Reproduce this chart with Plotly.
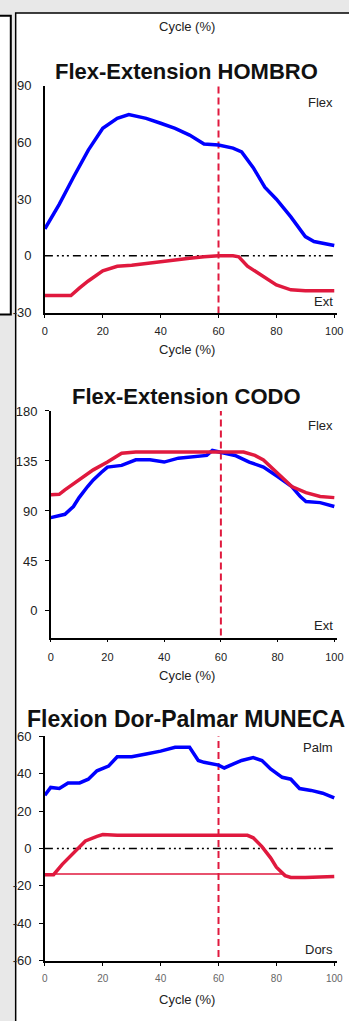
import plotly.graph_objects as go

W, H = 349, 1021

# ---------------- data ----------------
cycle_ticks = [0, 20, 40, 60, 80, 100]
cycle_tick_labels = ["0", "20", "40", "60", "80", "100"]

hombro_flex_x = [0, 5, 10, 15, 20, 25, 29, 35, 40, 45, 50, 55, 60, 65, 68, 72, 76, 80, 85, 90, 93, 100]
hombro_flex = [14.3, 27.4, 42, 56, 67.5, 72.8, 74.8, 72.8, 70.2, 67.5, 63.9, 59.2, 58.7, 57, 55, 46.7, 36.3, 30, 20.6, 10.2, 7.6, 5.5]
hombro_ext_x = [0, 5, 9, 12, 15, 20, 25, 30, 35, 40, 45, 50, 55, 60, 65, 67, 70, 75, 80, 85, 90, 100]
hombro_ext = [-21, -21, -21, -17, -13.3, -8, -5.5, -5, -4, -3, -2.3, -1.3, -0.5, 0, 0, -0.5, -5.5, -10.7, -15.4, -18, -18.5, -18.5]
hombro_yticks = [-30, 0, 30, 60, 90]

codo_blue_x = [0, 3, 5, 8, 10, 13, 15, 18, 20, 25, 30, 35, 40, 45, 50, 55, 57, 60, 65, 70, 75, 80, 85, 88, 90, 95, 100]
codo_blue = [84, 86, 87, 94, 102, 112, 118, 125, 129.5, 131, 136, 136, 134, 137.5, 139, 140, 144.5, 143, 140, 134, 129.5, 121, 112, 103, 98.5, 97.5, 94]
codo_red_x = [0, 3, 5, 10, 15, 20, 25, 30, 40, 50, 60, 68, 72, 75, 80, 85, 90, 95, 100]
codo_red = [104.7, 105, 109, 118, 127, 134, 142, 143, 143, 143, 143, 143, 140, 136, 124, 112, 106.5, 103, 102]
codo_yticks = [0, 45, 90, 135, 180]

muneca_blue_x = [0, 2, 5, 8, 12, 15, 18, 22, 25, 30, 35, 40, 45, 50, 53, 55, 60, 62, 65, 68, 72, 75, 78, 82, 85, 88, 92, 96, 100]
muneca_blue = [28.4, 32.6, 32, 35, 35, 37, 41.5, 44, 49, 49, 50.5, 52, 54, 54, 47, 46, 44.5, 43, 45, 47, 48.5, 47, 42.5, 38, 37, 32, 31, 29.5, 27]
muneca_red_x = [0, 3, 6, 10, 14, 18, 20, 25, 30, 40, 50, 60, 70, 72, 75, 78, 80, 83, 85, 90, 100]
muneca_red = [-14, -14, -8.5, -2, 4, 6.5, 7.4, 7, 7, 7, 7, 7, 7, 5.7, 1, -5, -10, -14.5, -15.5, -15.5, -15]
muneca_base_x = [0, 83]
muneca_base = [-13.7, -13.7]
muneca_yticks = [-60, -40, -20, 0, 20, 40, 60]

event_x = 60

BLUE = "#0000FF"
RED = "#E0193E"
FONT = "Liberation Sans"


def dx(a, b):
    return [a / W, b / W]


def dy(top, bottom):
    return [1 - bottom / H, 1 - top / H]


def py(v):
    return 1 - v / H


def px(v):
    return v / W


fig = go.Figure()

# chart definitions: (xaxis, yaxis, yrange)
ranges = {1: [-30.5, 90], 2: [-24, 180], 3: [-60, 60]}


def add_line(x, y, n, color, width, dash=None):
    suffix = "" if n == 1 else str(n)
    fig.add_trace(go.Scatter(
        x=x, y=y, mode="lines", xaxis="x" + suffix, yaxis="y" + suffix,
        line=dict(color=color, width=width, dash=dash), showlegend=False,
        hoverinfo="skip"))


ZERO_DASH = "8px,4px,2px,3px,2px,3px,2px,4px"

# chart 1
add_line([0, 100], [0, 0], 1, "#000000", 1.5, ZERO_DASH)
add_line([event_x, event_x], ranges[1], 1, RED, 2, "7px,4px")
add_line(hombro_flex_x, hombro_flex, 1, BLUE, 3.5)
add_line(hombro_ext_x, hombro_ext, 1, RED, 3.5)

# chart 2
add_line([event_x, event_x], [ranges[2][0] + 2, ranges[2][1]], 2, RED, 2, "7px,4px")
add_line(codo_blue_x, codo_blue, 2, BLUE, 3.5)
add_line(codo_red_x, codo_red, 2, RED, 3.5)

# chart 3
add_line([0, 100], [0, 0], 3, "#000000", 1.5, ZERO_DASH)
add_line([event_x, event_x], [ranges[3][0] + 2, ranges[3][1]], 3, RED, 2, "7px,4px")
add_line(muneca_base_x, muneca_base, 3, RED, 1.5)
add_line(muneca_blue_x, muneca_blue, 3, BLUE, 3.5)
add_line(muneca_red_x, muneca_red, 3, RED, 3.5)

tick_font = dict(family=FONT, size=13, color="#222222")
xtick_font = dict(family=FONT, size=11, color="#222222")


def xaxis(dom, anchor, font, standoff):
    return dict(domain=dom, anchor=anchor, range=[0, 101], showline=True,
                linecolor="#000000", linewidth=1.5, showgrid=False, zeroline=False,
                tickmode="array", tickvals=cycle_ticks, ticktext=cycle_tick_labels,
                ticks="outside", ticklen=3, tickcolor="#000000", tickfont=font,
                ticklabelstandoff=standoff, fixedrange=True)


def yaxis(dom, anchor, rng, tickvals, ticks, standoff):
    return dict(domain=dom, anchor=anchor, range=rng, showline=True,
                linecolor="#000000", linewidth=1.5, showgrid=False, zeroline=False,
                tickmode="array", tickvals=tickvals,
                ticktext=[str(t) for t in tickvals],
                ticks=ticks, ticklen=4, tickcolor="#000000", tickfont=tick_font,
                ticklabelstandoff=standoff, fixedrange=True)


layout = dict(
    width=W, height=H, margin=dict(l=0, r=0, t=0, b=0),
    paper_bgcolor="#e8e8e8", plot_bgcolor="rgba(0,0,0,0)",
    xaxis=xaxis(dx(43, 343), "y", xtick_font, 4),
    yaxis=yaxis(dy(80, 311), "x", ranges[1], hombro_yticks, "", 9),
    xaxis2=xaxis(dx(49, 343), "y2", xtick_font, 5),
    yaxis2=yaxis(dy(410, 640), "x2", ranges[2], codo_yticks, "outside", 5),
    xaxis3=xaxis(dx(43, 343), "y3", dict(family=FONT, size=10, color="#666666"), 4),
    yaxis3=yaxis(dy(740, 968), "x3", ranges[3], muneca_yticks, "outside", 5),
)

shapes = [
    # main white frame
    dict(type="rect", xref="paper", yref="paper", x0=px(13), x1=px(400), y0=py(1100), y1=py(6),
         fillcolor="#ffffff", line=dict(color="#000000", width=1.5), layer="below"),
    # left partial box
    dict(type="rect", xref="paper", yref="paper", x0=px(-10), x1=px(8), y0=py(312), y1=py(9),
         fillcolor="#ffffff", line=dict(color="#000000", width=2), layer="below"),
]

annotations = []


def text(x, y, s, size, bold=False, xanchor="center", color="#222222"):
    annotations.append(dict(
        x=px(x), y=py(y), xref="paper", yref="paper", text=("<b>%s</b>" % s) if bold else s,
        showarrow=False, xanchor=xanchor, yanchor="middle",
        font=dict(family=FONT, size=size, color=color)))


text(189, 20, "Cycle (%)", 13)
text(188, 65, "Flex-Extension HOMBRO", 22, bold=True, color="#111111")
text(341, 97, "Flex", 13, xanchor="right")
text(341, 299, "Ext", 13, xanchor="right")
text(189, 348, "Cycle (%)", 13)

text(188, 395, "Flex-Extension CODO", 22, bold=True, color="#111111")
text(341, 425, "Flex", 13, xanchor="right")
text(341, 628, "Ext", 13, xanchor="right")
text(189, 678, "Cycle (%)", 13)

text(188, 723, "Flexion Dor-Palmar MUNECA", 23, bold=True, color="#111111")
text(341, 752, "Palm", 13, xanchor="right")
text(341, 957, "Dors", 13, xanchor="right")
text(189, 1007, "Cycle (%)", 13)

layout["shapes"] = shapes
layout["annotations"] = annotations
fig.update_layout(**layout)

fig.write_html("out.html")
